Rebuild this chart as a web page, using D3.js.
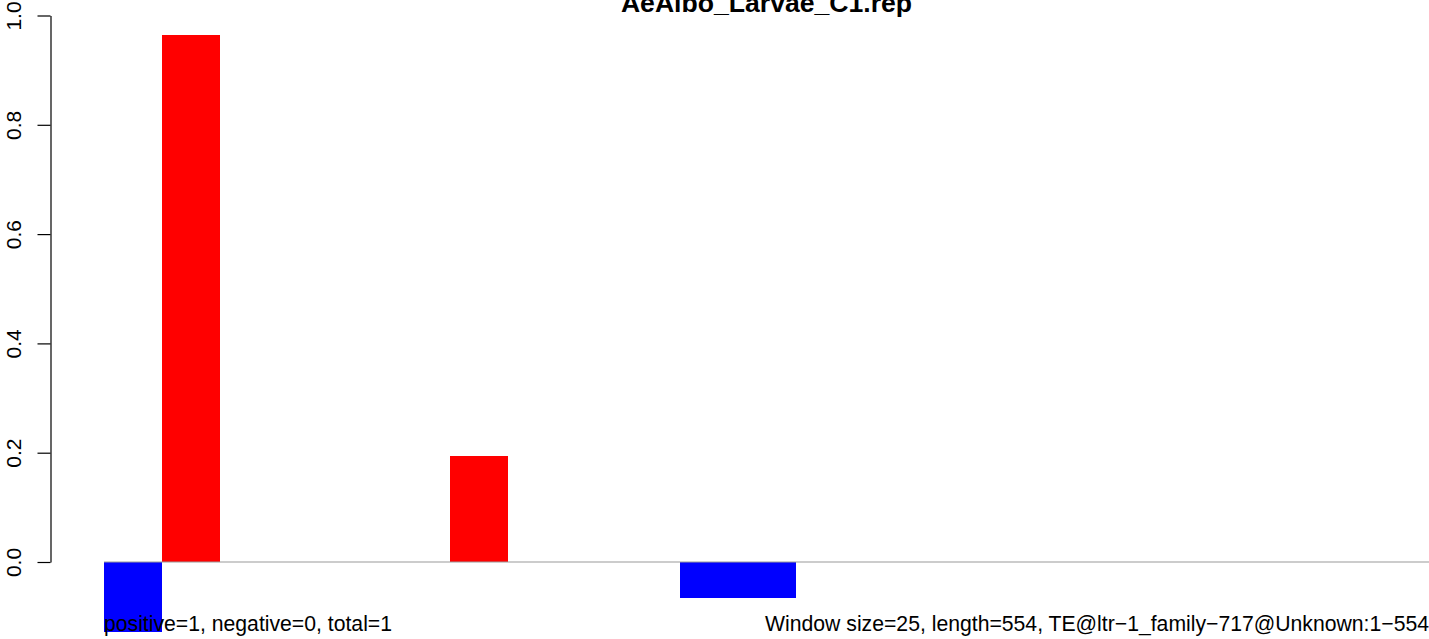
<!DOCTYPE html>
<html><head><meta charset="utf-8">
<script src="https://cdn.jsdelivr.net/npm/d3@7"></script>
<style>body{margin:0;background:#fff;} svg{display:block;font-family:"Liberation Sans",Arial,sans-serif;}</style>
</head><body>
<script>
const windows = d3.range(23);
const positiveValues = [0, 0.964, 0, 0, 0, 0, 0.194, 0, 0, 0, 0, 0, 0, 0, 0, 0, 0, 0, 0, 0, 0, 0, 0];
const negativeValues = [-0.128, 0, 0, 0, 0, 0, 0, 0, 0, 0, -0.065, -0.065, 0, 0, 0, 0, 0, 0, 0, 0, 0, 0, 0];
const yTicks = [0, 0.2, 0.4, 0.6, 0.8, 1.0];
const title = "AeAlbo_Larvae_C1.rep";
const leftNote = "positive=1, negative=0, total=1";
const rightNote = "Window size=25, length=554, TE@ltr\u22121_family\u2212717@Unknown:1\u2212554";

const W = 1429, H = 639;
const svg = d3.select("body").append("svg").attr("width", W).attr("height", H);

const x = d3.scaleBand().domain(windows).range([104, 1429]).padding(0);
const y = d3.scaleLinear().domain([0, 1]).range([562, 15.5]);

// bars
svg.append("g").attr("shape-rendering", "crispEdges").selectAll("rect.pos").data(windows.filter(i => positiveValues[i] > 0)).join("rect")
  .attr("x", i => x(i)).attr("width", x.bandwidth() + 0.5)
  .attr("y", i => y(positiveValues[i])).attr("height", i => y(0) - y(positiveValues[i]))
  .attr("fill", "#ff0000");
svg.append("g").attr("shape-rendering", "crispEdges").selectAll("rect.neg").data(windows.filter(i => negativeValues[i] < 0)).join("rect")
  .attr("x", i => x(i)).attr("width", x.bandwidth() + 0.5)
  .attr("y", y(0)).attr("height", i => y(negativeValues[i]) - y(0))
  .attr("fill", "#0000ff");

// baseline
svg.append("line").attr("x1", x.range()[0]).attr("x2", x.range()[1])
  .attr("y1", y(0)).attr("y2", y(0)).attr("stroke", "#999").attr("stroke-width", 1.2);

// y axis
const ax = svg.append("g").attr("transform", "translate(50.5,0)")
  .call(d3.axisLeft(y).tickValues(yTicks).tickFormat(d3.format(".1f")).tickSize(13).tickSizeOuter(0));
ax.select(".domain").attr("stroke", "#000").attr("stroke-width", 1.2);
ax.selectAll(".tick line").attr("stroke", "#000").attr("stroke-width", 1.2);
ax.selectAll(".tick text")
  .attr("font-size", 21).attr("fill", "#000").attr("font-family", "Liberation Sans, Arial, sans-serif")
  .attr("x", 0).attr("y", 0).attr("dy", null)
  .attr("text-anchor", "middle")
  .attr("transform", "translate(-29.5,0) rotate(-90)");

// title
svg.append("text").attr("x", (x.range()[0] + x.range()[1]) / 2).attr("y", 11.5)
  .attr("text-anchor", "middle").attr("font-weight", "bold").attr("font-size", 26.6)
  .text(title);

svg.append("text").attr("x", 104).attr("y", 631).attr("font-size", 21.2).text(leftNote);
svg.append("text").attr("x", 1429).attr("y", 631).attr("text-anchor", "end").attr("font-size", 21.2).text(rightNote);
</script>
</body></html>
